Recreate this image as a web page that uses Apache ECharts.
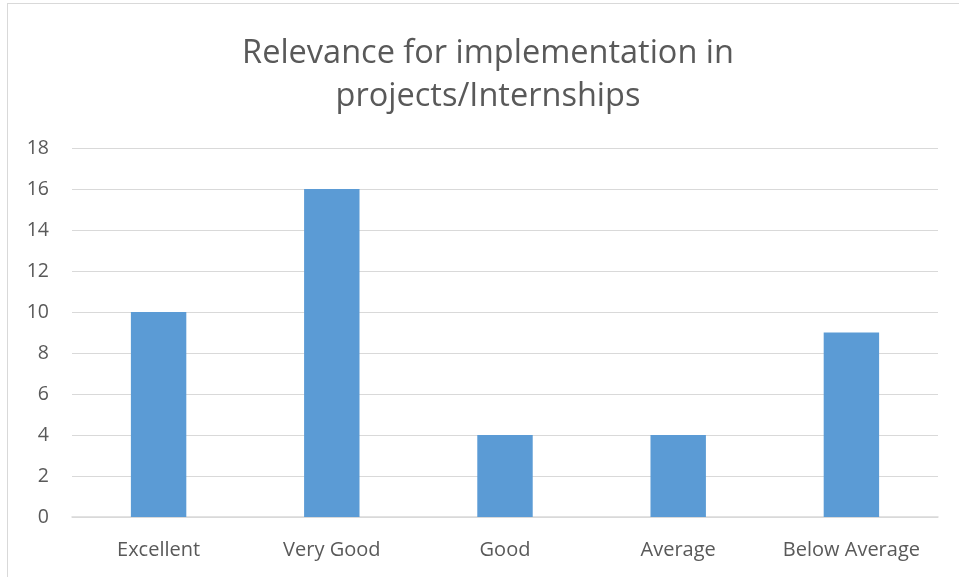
<!DOCTYPE html>
<html>
<head>
<meta charset="utf-8">
<script src="https://cdn.jsdelivr.net/npm/echarts@6/dist/echarts.min.js"></script>
<style>
  html, body { margin: 0; padding: 0; background: #fff; }
  #frame {
    position: absolute; left: 7px; top: 3px; width: 1000px; height: 700px;
    border: 1px solid #d9d9d9; box-sizing: border-box;
  }
  #chart { position: absolute; left: 0; top: 0; width: 959px; height: 577px; }
</style>
</head>
<body>
<div id="frame"></div>
<div id="chart"></div>
<script>
const titleText = "Relevance for implementation in\nprojects/Internships";
const categories = ["Excellent", "Very Good", "Good", "Average", "Below Average"];
const counts = [10, 16, 4, 4, 9];
const yTicks = { min: 0, max: 18, interval: 2 };

const fontFamily = "'Open Sans', 'Noto Sans', sans-serif";
let myChart = echarts.init(document.getElementById("chart"), null, { renderer: "canvas" });
let option = {
  animation: false,
  title: {
    text: titleText,
    left: 483, // centre of the title block
    top: 27,
    textAlign: "center",
    textStyle: {
      fontFamily: fontFamily,
      fontSize: 32.5,
      fontWeight: "normal",
      color: "#595959",
      lineHeight: 43,
    },
  },
  grid: {
    left: 72,
    right: 21,
    top: 148,
    bottom: 60,
  },
  xAxis: {
    type: "category",
    data: categories,
    axisTick: { show: false },
    axisLine: { lineStyle: { color: "#d9d9d9", width: 1.5 } },
    axisLabel: {
      interval: 0,
      hideOverlap: false,
      fontFamily: fontFamily,
      fontSize: 20,
      color: "#595959",
      margin: 23,
    },
  },
  yAxis: {
    type: "value",
    min: yTicks.min,
    max: yTicks.max,
    interval: yTicks.interval,
    axisLine: { show: false },
    axisTick: { show: false },
    splitLine: { lineStyle: { color: "#d9d9d9", width: 1 } },
    axisLabel: {
      fontFamily: fontFamily,
      fontSize: 19.5,
      color: "#595959",
      margin: 23,
    },
  },
  series: [
    {
      type: "bar",
      data: counts,
      barWidth: "32%",
      itemStyle: { color: "#5b9bd5" },
    },
  ],
};
myChart.setOption(option);
</script>
</body>
</html>
